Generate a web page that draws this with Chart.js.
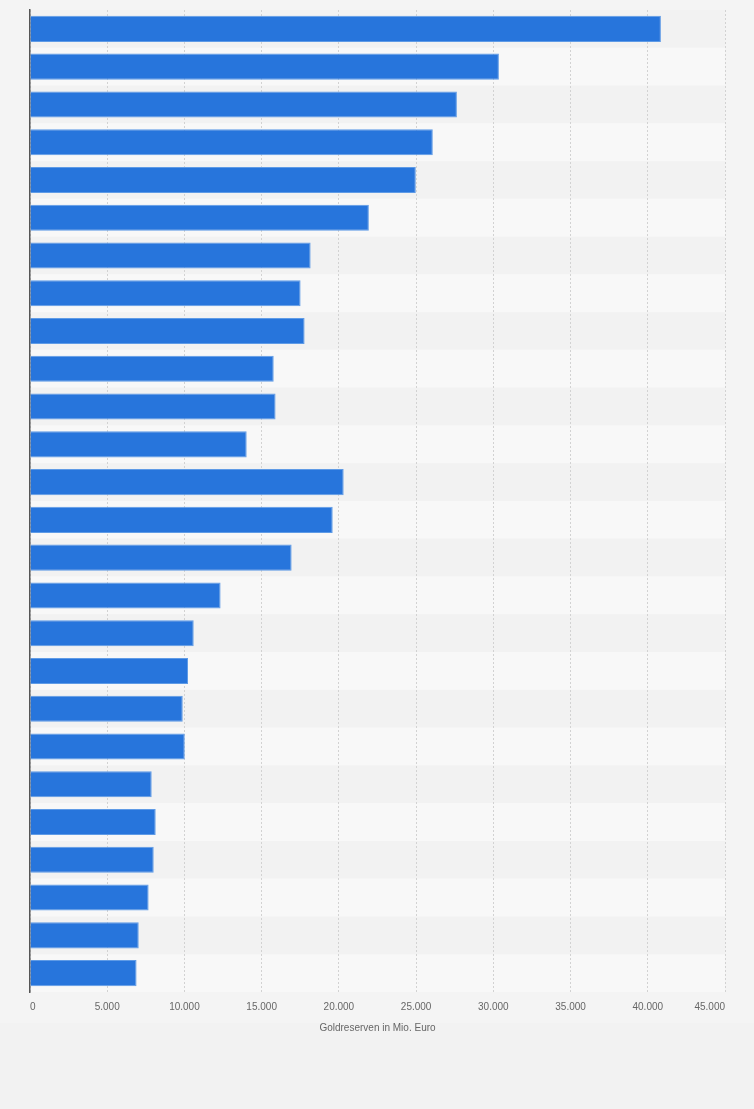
<!DOCTYPE html>
<html>
<head>
<meta charset="utf-8">
<script src="https://cdn.jsdelivr.net/npm/chart.js@4/dist/chart.umd.min.js"></script>
<style>
  html, body { margin: 0; padding: 0; }
  body { width: 754px; height: 1109px; background: linear-gradient(#f4f4f4 0, #f4f4f4 1023px, #f2f2f2 1023px); overflow: hidden; }
  #wrap { position: relative; width: 754px; height: 1109px; }
</style>
</head>
<body>
<div id="wrap"><canvas id="c" width="754" height="1109"></canvas></div>
<script>
// Categories (labels are not shown in the reference)
const categories = ["1","2","3","4","5","6","7","8","9","10","11","12","13","14","15","16","17","18","19","20","21","22","23","24","25","26"];
// Gold reserves in million euros
const goldReserves = [40850, 30360, 27640, 26080, 24980, 21940, 18170, 17520, 17780, 15780, 15900, 14030, 20310, 19600, 16940, 12340, 10600, 10230, 9890, 10020, 7880, 8140, 8010, 7680, 7040, 6900];
const xTickMax = 45000;
const xTickStep = 5000;
const xTitle = "Goldreserven in Mio. Euro";

function fmtDE(v) {
  return String(Math.round(v)).replace(/\B(?=(\d{3})+(?!\d))/g, ".");
}

const bandPlugin = {
  id: 'bands',
  beforeDraw(chart) {
    const { ctx, chartArea } = chart;
    const y = chart.scales.y;
    const n = categories.length;
    const step = (chartArea.bottom - chartArea.top) / n;
    ctx.save();
    for (let i = 0; i < n; i++) {
      const c = y.getPixelForValue(i);
      ctx.fillStyle = (i % 2 === 0) ? '#f2f2f2' : '#f8f8f8';
      ctx.fillRect(chartArea.left, c - step / 2, chartArea.right - chartArea.left, step);
    }
    ctx.restore();
  }
};

new Chart(document.getElementById('c'), {
  type: 'bar',
  data: {
    labels: categories,
    datasets: [{
      data: goldReserves,
      backgroundColor: '#2775dc',
      borderColor: '#5f9be6',
      borderWidth: 1,
      borderSkipped: 'start',
      barPercentage: 0.69,
      categoryPercentage: 1.0
    }]
  },
  options: {
    indexAxis: 'y',
    responsive: false,
    animation: false,
    devicePixelRatio: 1,
    layout: { padding: { left: 30, right: 29, top: 10, bottom: 75 } },
    plugins: { legend: { display: false }, tooltip: { enabled: false } },
    scales: {
      x: {
        min: 0,
        max: xTickMax,
        ticks: {
          stepSize: xTickStep,
          align: 'inner',
          padding: 9,
          color: '#666',
          font: { family: 'Liberation Sans, Arial, sans-serif', size: 10 },
          callback: (v) => fmtDE(v)
        },
        grid: { color: '#d2d2d2', lineWidth: 1, drawTicks: false },
        border: { display: false, dash: [2, 2] },
        title: {
          display: true,
          text: xTitle,
          color: '#666',
          font: { family: 'Liberation Sans, Arial, sans-serif', size: 10 },
          padding: { top: 0, bottom: 0 }
        }
      },
      y: {
        ticks: { display: false },
        grid: { display: false, drawTicks: false },
        border: { display: true, color: '#555', width: 1.5 }
      }
    }
  },
  plugins: [bandPlugin]
});
</script>
</body>
</html>
